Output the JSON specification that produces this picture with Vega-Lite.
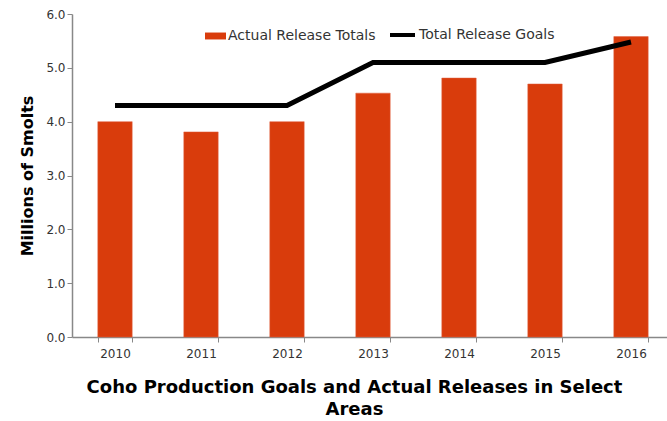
{
  "$schema": "https://vega.github.io/schema/vega-lite/v6.json",
  "width": 595,
  "height": 323,
  "autosize": {"type": "none"},
  "padding": {"left": 72, "top": 14, "right": 0, "bottom": 84},
  "background": "white",
  "config": {
    "font": "DejaVu Sans",
    "view": {"stroke": null}
  },
  "data": {
    "values": [
      {"year": "2010", "actual": 4.0, "goal": 4.3},
      {"year": "2011", "actual": 3.81, "goal": 4.3},
      {"year": "2012", "actual": 4.0, "goal": 4.3},
      {"year": "2013", "actual": 4.53, "goal": 5.1},
      {"year": "2014", "actual": 4.81, "goal": 5.1},
      {"year": "2015", "actual": 4.7, "goal": 5.1},
      {"year": "2016", "actual": 5.58, "goal": 5.48}
    ]
  },
  "encoding": {
    "x": {
      "field": "year",
      "type": "ordinal",
      "scale": {"paddingInner": 0.6, "paddingOuter": 0.3, "range": [0, 602]},
      "axis": {
        "labelAngle": 0,
        "labelFontSize": 12,
        "labelColor": "#333",
        "labelPadding": 6,
        "tickBand": "extent",
        "tickColor": "#888",
        "domainColor": "#888",
        "domainWidth": 1.5,
        "title": ["Coho Production Goals and Actual Releases in Select", "Areas"],
        "titleFontSize": 18,
        "titleFontWeight": "bold",
        "titleColor": "#000",
        "titlePadding": 19,
        "titleLineHeight": 22,
        "titleX": 282,
        "titleAlign": "center"
      }
    }
  },
  "layer": [
    {
      "mark": {"type": "bar", "stroke": "#e06040", "strokeWidth": 0.5},
      "encoding": {
        "y": {
          "field": "actual",
          "type": "quantitative",
          "scale": {"domain": [0, 6], "nice": false},
          "axis": {
            "values": [0, 1, 2, 3, 4, 5, 6],
            "format": ".1f",
            "grid": false,
            "labelFontSize": 12,
            "labelColor": "#333",
            "tickColor": "#888",
            "domainColor": "#888",
            "domainWidth": 1.5,
            "title": "Millions of Smolts",
            "titleFontSize": 16,
            "titleFontWeight": "bold",
            "titleColor": "#000",
            "titlePadding": 10
          }
        },
        "fill": {
          "datum": "Actual Release Totals",
          "type": "nominal",
          "scale": {"range": ["#d93c0c"]},
          "legend": {
            "title": null,
            "orient": "none",
            "legendX": 133,
            "legendY": 11.5,
            "symbolType": "M-1,-0.33H1V0.33H-1Z",
            "symbolSize": 441,
            "symbolStrokeWidth": 0,
            "labelFontSize": 14,
            "labelColor": "#333",
            "labelOffset": 2
          }
        }
      }
    },
    {
      "mark": {"type": "line", "strokeWidth": 5},
      "encoding": {
        "y": {"field": "goal", "type": "quantitative"},
        "stroke": {
          "datum": "Total Release Goals",
          "type": "nominal",
          "scale": {"range": ["#000000"]},
          "legend": {
            "title": null,
            "orient": "none",
            "legendX": 316,
            "legendY": 6.5,
            "symbolType": "stroke",
            "symbolSize": 625,
            "symbolStrokeWidth": 4,
            "labelFontSize": 14,
            "labelColor": "#333",
            "labelOffset": 2
          }
        }
      }
    }
  ],
  "resolve": {"scale": {"y": "shared"}}
}
